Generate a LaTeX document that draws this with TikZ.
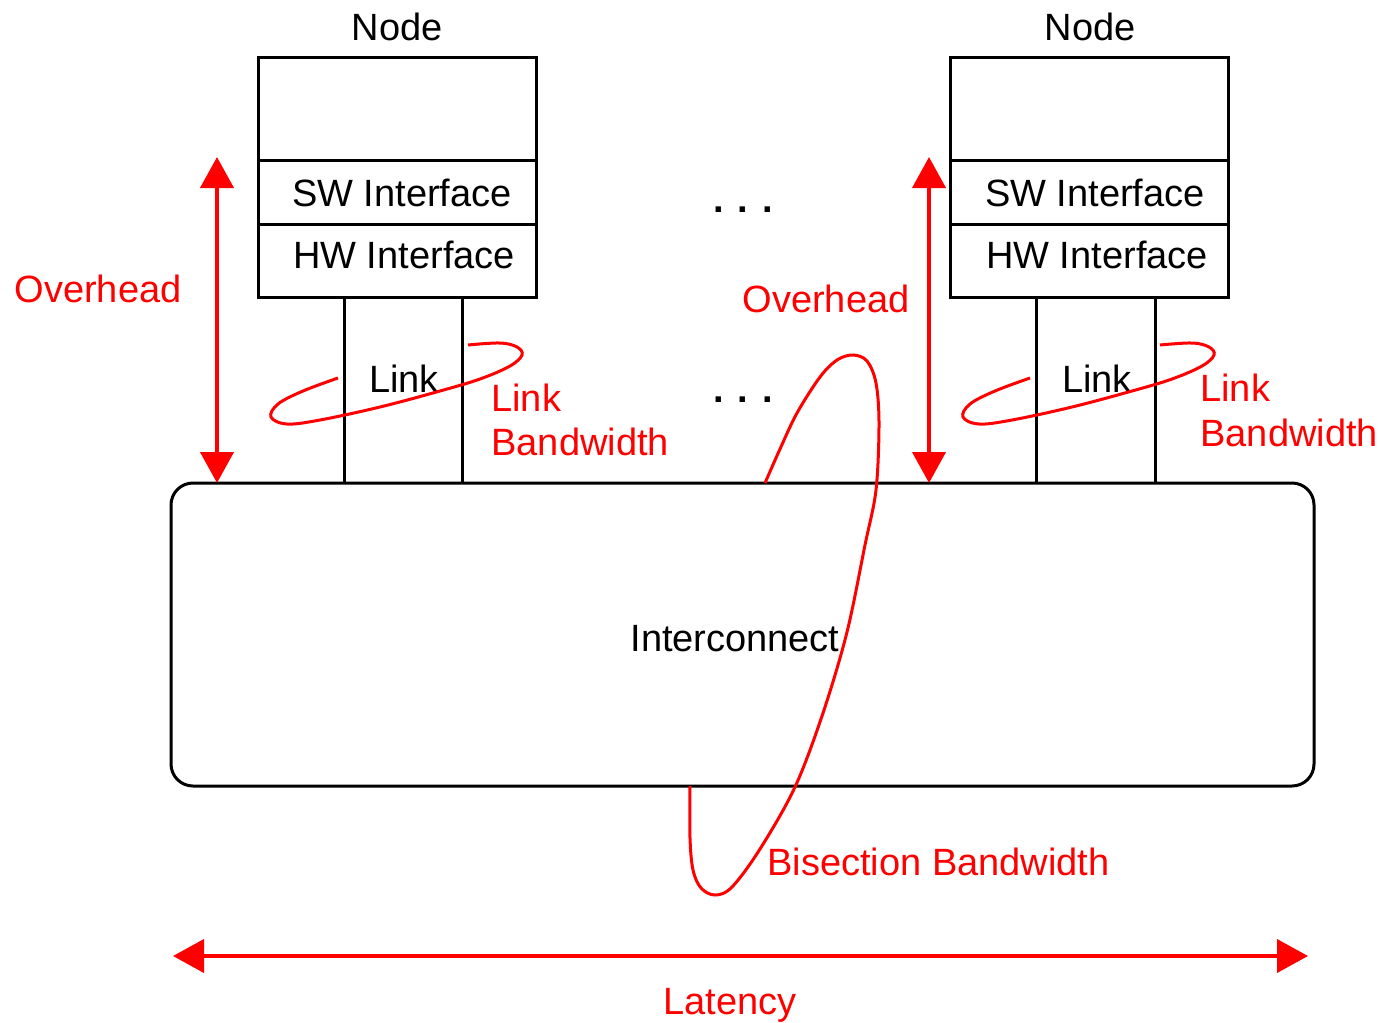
\documentclass[tikz,border=0pt]{standalone}
\usepackage{fontspec}
\setmainfont{Liberation Sans}
\usetikzlibrary{arrows.meta}
\begin{document}
\begin{tikzpicture}[x=0.5pt,y=-0.5pt,
  blk/.style={draw, line width=1.5pt, inner sep=0pt, minimum width=139pt},
  lbl/.style={font=\fontsize{19}{22}\selectfont, inner sep=0pt, anchor=base},
  redlbl/.style={lbl, text=red},
  wire/.style={line width=1.5pt},
  measure/.style={red, line width=2pt,
    {Triangle[width=16.5pt,length=15.5pt]}-{Triangle[width=16.5pt,length=15.5pt]}},
  loopline/.style={red, line width=1.5pt}]
\useasboundingbox (0,0) rectangle (1379,1022);

% ---- left node stack ----
\node[blk, minimum height=51pt]   (topL) at (397,109) {};
\node[blk, minimum height=32pt]   (swL)  at (397,192) {};
\node[blk, minimum height=36.5pt] (hwL)  at (397,260.5) {};
\node[lbl] (nodeL) at (397,41) {Node};
\node[lbl] (swtL) at (402,206) {SW Interface};
\node[lbl] (hwtL) at (404,268) {HW Interface};

% ---- right node stack ----
\node[blk, minimum height=51pt]   (topR) at (1089.5,109) {};
\node[blk, minimum height=32pt]   (swR)  at (1089.5,192) {};
\node[blk, minimum height=36.5pt] (hwR)  at (1089.5,260.5) {};
\node[lbl] (nodeR) at (1090,41) {Node};
\node[lbl] (swtR) at (1095,206) {SW Interface};
\node[lbl] (hwtR) at (1097,268) {HW Interface};

% ---- interconnect ----
\node[draw, line width=1.5pt, rounded corners=11pt, inner sep=0pt,
      minimum width=571.5pt, minimum height=151.5pt] (net) at (742.5,634.5) {};
\node[lbl] (netT) at (735,651) {Interconnect};

% ---- links ----
\coordinate (aL1) at (344,297); \coordinate (bL1) at (344,483);
\coordinate (aL2) at (462,297); \coordinate (bL2) at (462,483);
\coordinate (aR1) at (1036,297); \coordinate (bR1) at (1036,483);
\coordinate (aR2) at (1155,297); \coordinate (bR2) at (1155,483);
\draw[wire] (aL1) -- (bL1);
\draw[wire] (aL2) -- (bL2);
\draw[wire] (aR1) -- (bR1);
\draw[wire] (aR2) -- (bR2);
\node[lbl] (lnkL) at (404,392) {Link};
\node[lbl] (lnkR) at (1097,392) {Link};

% ---- ellipsis ----
\node[lbl] (dots1) at (743,212) {\textbf{.\hspace{7pt}.\hspace{7pt}.}};
\node[lbl] (dots2) at (743,402) {\textbf{.\hspace{7pt}.\hspace{7pt}.}};

% ---- overhead arrows ----
\coordinate (ovLt) at (217,157); \coordinate (ovLb) at (217,483);
\coordinate (ovRt) at (929,157); \coordinate (ovRb) at (929,483);
\draw[measure] (ovLt) -- (ovLb);
\draw[measure] (ovRt) -- (ovRb);
\node[redlbl] (ovL) at (98,302) {Overhead};
\node[redlbl] (ovR) at (826,312) {Overhead};

% ---- link bandwidth loops ----
\foreach \dx in {0,692}{
  \draw[loopline] plot[smooth, tension=0.6] coordinates {
    (468+\dx,345) (500+\dx,343) (517+\dx,347) (522+\dx,355) (510+\dx,366)
    (480+\dx,379) (440+\dx,391) (380+\dx,407) (320+\dx,420) (287+\dx,424)
    (271+\dx,417) (278+\dx,404) (303+\dx,391) (338+\dx,378)};
}
\node[redlbl, anchor=base west] (lbwL1) at (491,411) {Link};
\node[redlbl, anchor=base west] (lbwL2) at (491,455) {Bandwidth};
\node[redlbl, anchor=base west] (lbwR1) at (1200,401) {Link};
\node[redlbl, anchor=base west] (lbwR2) at (1200,446) {Bandwidth};

% ---- bisection bandwidth loop ----
\draw[loopline] plot[smooth, tension=0.55] coordinates {
  (765,483) (780,449) (797,413) (820,377) (837,360) (853,355) (867,361)
  (876,383) (879,424) (876,490) (865,545) (847,632) (823,713) (795,787)
  (760,849) (732,887) (715,895) (701,888) (693,870) (690,838) (690,786)};
\node[redlbl, anchor=base west] (bis) at (767,875) {Bisection Bandwidth};

% ---- latency ----
\coordinate (latA) at (173,956); \coordinate (latB) at (1308,956);
\draw[measure] (latA) -- (latB);
\node[redlbl] (lat) at (730,1014) {Latency};
\end{tikzpicture}
\end{document}
